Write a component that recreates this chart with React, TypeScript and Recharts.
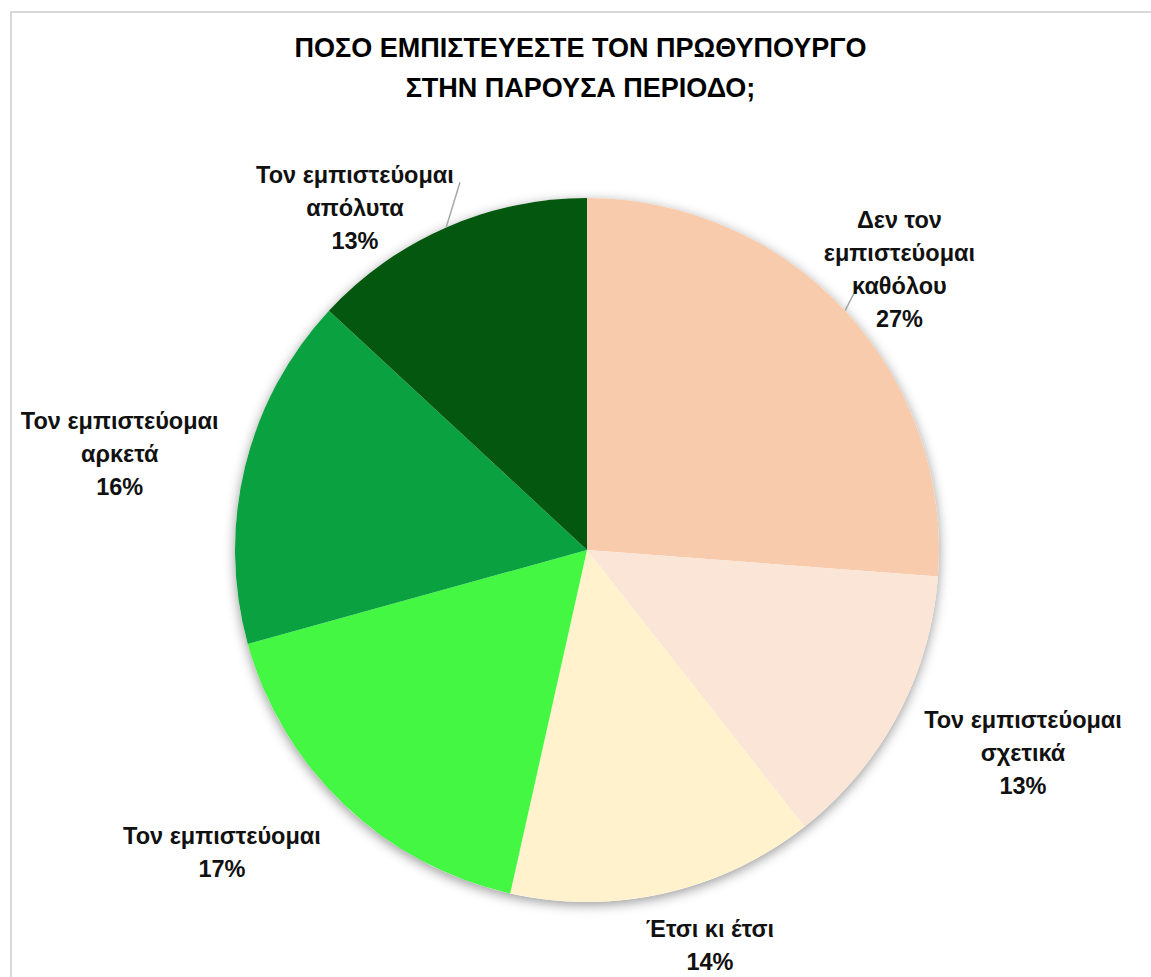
import React from 'react';
import { PieChart, Pie, Cell } from 'recharts';

const categories = [
  'Δεν τον εμπιστεύομαι καθόλου',
  'Τον εμπιστεύομαι σχετικά',
  'Έτσι κι έτσι',
  'Τον εμπιστεύομαι',
  'Τον εμπιστεύομαι αρκετά',
  'Τον εμπιστεύομαι απόλυτα',
];
const values = [26.2, 13.2, 14.1, 17.2, 16.2, 13.1];
const percentLabels = ['27%', '13%', '14%', '17%', '16%', '13%'];
const labelLines = [
  ['Δεν τον', 'εμπιστεύομαι', 'καθόλου'],
  ['Τον εμπιστεύομαι', 'σχετικά'],
  ['Έτσι κι έτσι'],
  ['Τον εμπιστεύομαι'],
  ['Τον εμπιστεύομαι', 'αρκετά'],
  ['Τον εμπιστεύομαι', 'απόλυτα'],
];
const colors = ['#F8CBAD', '#FBE5D6', '#FFF2CC', '#43F743', '#0AA140', '#04570F'];
const titleLines = ['ΠΟΣΟ ΕΜΠΙΣΤΕΥΕΣΤΕ ΤΟΝ ΠΡΩΘΥΠΟΥΡΓΟ', 'ΣΤΗΝ ΠΑΡΟΥΣΑ ΠΕΡΙΟΔΟ;'];

const data = categories.map((name, i) => ({ name, value: values[i] }));

// label layout: radial distance and angle tweak (deg) per slice
const labelDist = [420, 481, 414, 474, 477, 413];
const labelAngleTweak = [-0.9, 3.1, 4.5, -6.8, 2.1, 10.6];
// leader line end offset relative to label block center (only for some)
const leaderEnd: Record<number, [number, number]> = { 0: [-45, 23], 5: [105, -26] };

const RAD = Math.PI / 180;
const FONT = '"Liberation Sans", Arial, sans-serif';
const LINE_H = 33;

const renderLabel = (props: any) => {
  const { cx, cy, midAngle, outerRadius, index } = props;
  const a = (midAngle + labelAngleTweak[index]) * RAD;
  const d = labelDist[index];
  const x = cx + d * Math.cos(-a);
  const y = cy + d * Math.sin(-a);
  const lines = [...labelLines[index], percentLabels[index]];
  const n = lines.length;
  const le = leaderEnd[index];
  let line = null;
  if (le) {
    const sx = cx + outerRadius * Math.cos(-midAngle * RAD);
    const sy = cy + outerRadius * Math.sin(-midAngle * RAD);
    line = <line x1={sx} y1={sy} x2={x + le[0]} y2={y + le[1]} stroke="#a6a6a6" strokeWidth={1.5} />;
  }
  return (
    <g key={`lbl-${index}`}>
      {line}
      {lines.map((t, i) => (
        <text
          key={i}
          x={x}
          y={y + (i - (n - 1) / 2) * LINE_H}
          textAnchor="middle"
          dominantBaseline="central"
          fontFamily={FONT}
          fontWeight="bold"
          fontSize={23.5}
          fill="#111"
        >
          {t}
        </text>
      ))}
    </g>
  );
};

export default function App() {
  return (
    <div style={{ position: 'absolute', left: 0, top: 0, width: 1151, height: 977, overflow: 'hidden', background: '#fff' }}>
      <style>{`.pie-shadow .recharts-sector { filter: drop-shadow(0px 3px 6px rgba(0,0,0,0.4)); }`}</style>
      <div style={{ position: 'absolute', left: 10, top: 11, width: 1200, height: 1050, border: '2px solid #d9d9d9', boxSizing: 'border-box' }} />
      <div style={{ position: 'absolute', left: 0, top: 0 }}>
        <PieChart width={1151} height={977} margin={{ top: 0, right: 0, bottom: 0, left: 0 }}>
          <Pie
            className="pie-shadow"
            data={[{ name: 'shadow', value: 1 }]}
            dataKey="value"
            cx={587}
            cy={550}
            outerRadius={352}
            startAngle={90}
            endAngle={-270}
            stroke="none"
            fill="#ffffff"
            isAnimationActive={false}
            label={false}
            labelLine={false}
          />
          <Pie
            data={data}
            dataKey="value"
            nameKey="name"
            cx={587}
            cy={550}
            outerRadius={352}
            startAngle={90}
            endAngle={-270}
            stroke="none"
            isAnimationActive={false}
            label={renderLabel}
            labelLine={false}
          >
            {data.map((_, i) => (
              <Cell key={i} fill={colors[i]} />
            ))}
          </Pie>
        </PieChart>
      </div>
      {titleLines.map((t, i) => (
        <div
          key={i}
          style={{
            position: 'absolute',
            left: 0,
            width: 1161,
            top: 32 + i * 40,
            textAlign: 'center',
            fontFamily: FONT,
            fontWeight: 'bold',
            fontSize: 27,
            lineHeight: '32px',
            color: '#000',
          }}
        >
          {t}
        </div>
      ))}
    </div>
  );
}
